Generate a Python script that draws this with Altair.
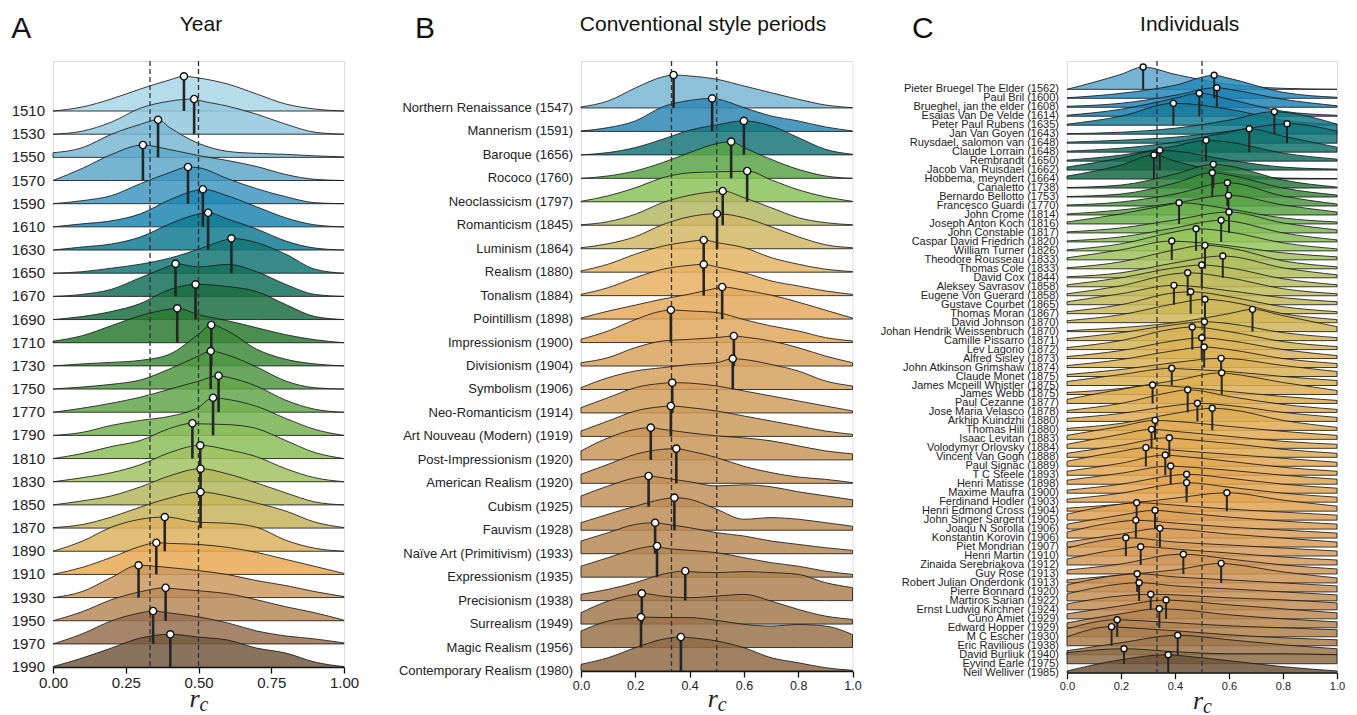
import altair as alt
import pandas as pd

# ---------------- Panel A : Year ----------------
A_LABELS = ["1510", "1530", "1550", "1570", "1590", "1610", "1630", "1650", "1670",
            "1690", "1710", "1730", "1750", "1770", "1790", "1810", "1830", "1850",
            "1870", "1890", "1910", "1930", "1950", "1970", "1990"]
A_GRID = [0.0, 0.1, 0.2, 0.3, 0.4, 0.5, 0.6, 0.7, 0.8, 0.9, 1.0]
A_DENS = [
    [0, 4, 12, 22, 31, 33, 27, 17, 7, 2, 0],
    [0, 3, 12, 26, 33, 34, 28, 20, 10, 2, 0],
    [4.6, 9.6, 23, 33, 30, 14, 6, 4, 3, 1.5, 0.5],
    [0, 12, 26, 35, 31, 25, 20, 14, 6, 1.2, 0],
    [0, 3, 8, 20, 31, 36, 25, 15, 7, 1, 0],
    [0, 3, 6, 13, 27, 37, 31, 20, 9, 2, 0],
    [0, 3, 6, 13, 26, 36, 31, 21, 9, 2, 0],
    [0, 1.5, 5, 9, 15, 24, 34, 30.5, 19, 4, 0],
    [0, 2, 7, 18.7, 30.4, 29.4, 32, 24.7, 12, 2, 0],
    [0, 3, 8, 16, 30, 35, 33, 28, 15, 3, 0],
    [1.5, 7, 17, 27, 33.5, 28, 22, 15, 8, 3, 0],
    [0, 2, 3.5, 5.5, 11.6, 31.6, 34.9, 16.6, 6.6, 2, 0],
    [0, 2, 4.7, 9, 20, 33, 34, 22, 8, 1.3, 0],
    [0, 4, 9, 15, 23, 31, 35, 26, 12, 3, 0],
    [0, 3, 10, 15, 19, 28, 36, 29, 17, 6, 0],
    [0, 5, 12, 18, 30, 34.8, 34, 30, 18, 6, 0],
    [0, 4, 9, 17, 29, 36, 32, 25, 13, 4, 0],
    [0, 4, 9, 18, 29, 36, 31, 22, 12, 3, 0],
    [0.5, 3.5, 11, 21, 30, 36, 32, 25, 17, 6, 0.5],
    [0, 10, 24, 32, 34, 29, 28, 24, 11, 3, 0],
    [0, 7, 17, 28, 31, 30, 27, 22, 15, 8, 1],
    [0, 6, 20, 32, 30, 27, 23, 17, 12, 6, 1],
    [0, 9, 21, 29, 32.5, 30, 27, 21, 14, 8, 0.5],
    [0, 10, 23, 31, 31, 27, 21, 13, 8, 5, 1],
    [0.5, 9, 19, 29, 32.5, 30, 27, 19, 14, 5, 0.5],
]
A_MED_X = [0.450, 0.485, 0.361, 0.309, 0.464, 0.515, 0.533, 0.613, 0.421, 0.490, 0.427,
           0.544, 0.542, 0.569, 0.550, 0.479, 0.506, 0.507, 0.507, 0.384, 0.355, 0.294,
           0.387, 0.344, 0.403]
A_MED_D = [34.7, 35.2, 37.6, 35.5, 36.7, 37.6, 37.3, 34.9, 32.7, 35.2, 34.4, 40.9, 38.0,
           36.5, 37.7, 35.3, 36.4, 36.2, 36.1, 34.2, 31.7, 32.3, 33.0, 32.9, 32.8]
A_TICKS = [0.0, 0.25, 0.5, 0.75, 1.0]
A_COLORS = ["#a9d6e8", "#93c8de", "#7ab7d2", "#5ea7c9", "#3f97c0", "#1f86b2", "#137b93",
            "#147775", "#16705a", "#1b6e43", "#2a7a33", "#3e8a3a", "#509942", "#62a64a",
            "#75b252", "#8bbe5a", "#a2c262", "#b4b75e", "#c6b45d", "#dcb15d", "#e9a955",
            "#cd9a5f", "#b88a58", "#987050", "#745a40"]

# ---------------- Panel B : Conventional style periods ----------------
B_LABELS = ["Northern Renaissance (1547)", "Mannerism (1591)", "Baroque (1656)",
            "Rococo (1760)", "Neoclassicism (1797)", "Romanticism (1845)",
            "Luminism (1864)", "Realism (1880)", "Tonalism (1884)", "Pointillism (1898)",
            "Impressionism (1900)", "Divisionism (1904)", "Symbolism (1906)",
            "Neo-Romanticism (1914)", "Art Nouveau (Modern) (1919)",
            "Post-Impressionism (1920)", "American Realism (1920)", "Cubism (1925)",
            "Fauvism (1928)", "Naïve Art (Primitivism) (1933)", "Expressionism (1935)",
            "Precisionism (1938)", "Surrealism (1949)", "Magic Realism (1956)",
            "Contemporary Realism (1980)"]
B_GRID = [0.0, 0.1, 0.2, 0.3, 0.4, 0.5, 0.6, 0.7, 0.8, 0.9, 1.0]
B_DENS = [
    [1, 7, 20, 31, 32, 28.7, 22, 15.3, 8.7, 3, 0.3],
    [0.5, 3.8, 10.5, 24.5, 31, 32.5, 23.8, 15.5, 10.5, 4.5, 0.5],
    [0, 2.3, 7.3, 15.6, 24.6, 30, 33.5, 29, 17.3, 5.6, 0.6],
    [0, 2.4, 7.4, 15.7, 25.7, 34.7, 30.7, 19, 9, 2.4, 0],
    [0.5, 6, 14, 24, 29, 30, 30.5, 22, 12, 5, 0.5],
    [0.5, 3.6, 11, 22.6, 30, 33.8, 27.6, 17.6, 7.6, 2.6, 0.5],
    [1, 5, 12, 24, 32, 35, 31, 22, 12, 4, 1],
    [1.2, 8, 18, 26, 30.6, 29.6, 24.6, 14.6, 8, 3, 0.6],
    [1.3, 8, 18, 26.3, 30.3, 28.7, 23, 14.7, 9.7, 4.7, 1.3],
    [1, 8, 14, 20, 25, 31, 29, 24, 17, 9, 1],
    [3.3, 11.6, 23, 31.6, 31.6, 30, 23, 16.6, 11.6, 5, 1.6],
    [3.3, 8.4, 18.4, 25, 26.7, 28.4, 29, 25, 18.4, 10, 3.3],
    [1.8, 11.8, 18.5, 21.8, 25, 26.8, 30, 25, 18.5, 8.5, 3.5],
    [5.3, 15.3, 25.3, 29.6, 29.8, 27, 22, 17, 12, 7, 2],
    [5.4, 15.4, 25.4, 29.8, 28.8, 25.4, 20.4, 15.4, 10.4, 5.4, 2],
    [8.9, 22, 30.5, 30.5, 27, 24, 22, 19, 14, 9, 6],
    [9, 19, 29, 34, 32.3, 25.7, 17, 10.7, 6.3, 4, 0.7],
    [10.8, 20.8, 29, 29, 25, 20.8, 22, 20, 15, 11, 7],
    [7.6, 16, 24, 31, 31, 21, 11, 12.6, 11, 7.6, 4],
    [12.7, 21, 29.3, 30, 26, 21, 17.7, 12.7, 9.3, 6, 3.3],
    [11, 19.5, 27.8, 29.5, 26.8, 24.5, 19.5, 14.5, 11, 6, 2.8],
    [6.3, 11.3, 18, 26.3, 29, 28, 29, 28, 26.3, 18, 13],
    [11.4, 23, 29.7, 28, 26.4, 28, 29.7, 23, 14.7, 8, 4.7],
    [16.5, 26.5, 30, 30, 29.9, 27.2, 23.2, 21.5, 23, 21.5, 13],
    [6.7, 13.3, 23.3, 31.7, 33.3, 30, 23.3, 13.3, 8.3, 3.3, 0.7],
]
B_MED_X = [0.341, 0.483, 0.600, 0.553, 0.612, 0.522, 0.501, 0.452, 0.452, 0.520, 0.331,
           0.563, 0.559, 0.336, 0.331, 0.257, 0.351, 0.249, 0.344, 0.273, 0.280, 0.384,
           0.224, 0.221, 0.368]
B_MED_D = [33, 33, 34, 36.7, 30.8, 34.3, 35, 32.2, 31.3, 32.1, 32.6, 30, 30.8, 30.3,
           30.4, 32.2, 34.7, 30.8, 32.6, 31, 31.2, 29.6, 30.7, 30.5, 34]
B_TICKS = [0.0, 0.2, 0.4, 0.6, 0.8, 1.0]
B_COLORS = ["#79b6d3", "#2f87b5", "#17767a", "#5aa548", "#8ac25a", "#b5b865", "#d1b866",
            "#e5b465", "#e8b061", "#e4a95d", "#dfa65e", "#d9a35e", "#d5a05e", "#d19e5d",
            "#cd9b5c", "#c9975b", "#c4935a", "#c09059", "#bc8d57", "#b88a56", "#b38654",
            "#ad8152", "#a47a4e", "#9a734b", "#8f6b47"]

# ---------------- Panel C : Individuals ----------------
C_LABELS = ["Pieter Bruegel The Elder (1562)", "Paul Bril (1600)",
            "Brueghel, jan the elder (1608)", "Esaias Van De Velde (1614)",
            "Peter Paul Rubens (1635)", "Jan Van Goyen (1643)",
            "Ruysdael, salomon van (1648)", "Claude Lorrain (1648)", "Rembrandt (1650)",
            "Jacob Van Ruisdael (1662)", "Hobbema, meyndert (1664)", "Canaletto (1738)",
            "Bernardo Bellotto (1753)", "Francesco Guardi (1770)", "John Crome (1814)",
            "Joseph Anton Koch (1816)", "John Constable (1817)",
            "Caspar David Friedrich (1820)", "William Turner (1826)",
            "Theodore Rousseau (1833)", "Thomas Cole (1833)", "David Cox (1844)",
            "Aleksey Savrasov (1858)", "Eugene Von Guerard (1858)",
            "Gustave Courbet (1865)", "Thomas Moran (1867)", "David Johnson (1870)",
            "Johan Hendrik Weissenbruch (1870)", "Camille Pissarro (1871)",
            "Lev Lagorio (1872)", "Alfred Sisley (1873)", "John Atkinson Grimshaw (1874)",
            "Claude Monet (1875)", "James Mcneill Whistler (1875)", "James Webb (1875)",
            "Paul Cezanne (1877)", "Jose Maria Velasco (1878)", "Arkhip Kuindzhi (1880)",
            "Thomas Hill (1880)", "Isaac Levitan (1883)", "Volodymyr Orlovsky (1884)",
            "Vincent Van Gogh (1888)", "Paul Signac (1889)", "T C Steele (1893)",
            "Henri Matisse (1898)", "Maxime Maufra (1900)", "Ferdinand Hodler (1903)",
            "Henri Edmond Cross (1904)", "John Singer Sargent (1905)",
            "Joaqu N Sorolla (1906)", "Konstantin Korovin (1906)", "Piet Mondrian (1907)",
            "Henri Martin (1910)", "Zinaida Serebriakova (1912)", "Guy Rose (1913)",
            "Robert Julian Onderdonk (1913)", "Pierre Bonnard (1920)",
            "Martiros Sarian (1922)", "Ernst Ludwig Kirchner (1924)", "Cuno Amiet (1929)",
            "Edward Hopper (1929)", "M C Escher (1930)", "Eric Ravilious (1938)",
            "David Burliuk (1940)", "Eyvind Earle (1975)", "Neil Welliver (1985)"]
C_GRID = [0.0, 0.2, 0.4, 0.6, 0.8, 1.0]
C_DENS = [
    [0, 15, 15, 5, 1, 0], [0.5, 5, 13, 20, 6, 1], [1, 4, 12, 18, 8, 1.5],
    [1, 7, 18, 17, 5, 1], [1, 9, 21.5, 16, 5, 1], [0.5, 2, 6, 14, 22, 10],
    [1, 3, 6, 12, 19.3, 12], [1, 4, 10, 20, 16, 5], [1, 6, 15, 19, 8, 2],
    [3, 12, 19, 10, 3, 1], [3, 14, 18, 6, 1, 0.5], [0.5, 3, 14, 22, 8, 1],
    [0.5, 3, 14, 22, 9, 2], [1, 4, 12, 23, 10, 2], [1, 5, 12, 19.5, 10, 3],
    [2, 10, 20.5, 15, 6, 2], [1, 5, 13, 20.9, 10, 3], [1, 5, 14, 21, 9, 2],
    [1, 7, 19, 19, 8, 2], [2, 10, 18.7, 14, 7, 3], [1, 7, 19, 21, 8, 2],
    [1, 5, 15, 21.5, 10, 3], [2, 9, 19, 19, 8, 2], [2, 10, 22, 18, 7, 2],
    [3, 11, 19.3, 14, 7, 3], [2, 9, 21, 17, 7, 2], [2, 8, 19, 21, 9, 3],
    [1, 4, 9, 18, 16, 5], [2, 8, 16, 17, 8, 3], [2, 9, 21, 18, 8, 3],
    [2, 8, 18, 18, 9, 3], [2, 8, 17, 18, 9, 4], [2, 7, 14, 18, 11, 5],
    [4, 11, 17, 14, 9, 5], [2, 6, 14, 21, 12, 4], [4, 14, 17, 12, 7, 3],
    [2, 9, 21, 16, 8, 3], [3, 8, 16, 16, 9, 4], [2, 7, 17, 21, 10, 3],
    [4, 13, 18, 13, 8, 4], [4, 14, 17, 12, 7, 4], [4, 12, 19, 14, 8, 4],
    [5, 15, 16, 12, 8, 4], [4, 12, 19.5, 14, 8, 4], [4, 11, 18, 14, 9, 5],
    [3, 9, 18, 15, 9, 5], [3, 9, 18.5, 15, 9, 5], [3, 7, 13, 18.4, 11, 5],
    [6, 16, 15, 11, 8, 5], [5, 14, 17, 12, 8, 5], [6, 16.5, 15, 11, 8, 5],
    [5, 13, 18, 13, 9, 5], [8, 18, 14, 11, 8, 5], [6, 16, 16, 12, 8, 5],
    [4, 10, 19.5, 15, 9, 5], [3, 8, 13, 19, 11, 5], [7, 17, 15, 12, 9, 6],
    [7, 17, 15, 12, 9, 6], [6, 14, 15, 12, 10, 7], [5, 13, 18.5, 14, 10, 6],
    [5, 14, 18.5, 13, 9, 6], [8, 17, 14, 11, 9, 7], [9, 18.5, 15, 11, 8, 6],
    [4, 12, 19.4, 15, 10, 6], [11, 15, 12, 10, 10, 9], [1.7, 13, 17.5, 12, 6, 1.7],
]
C_MED_X = [0.282, 0.545, 0.555, 0.490, 0.394, 0.768, 0.815, 0.675, 0.515, 0.344,
           0.322, 0.542, 0.538, 0.594, 0.598, 0.415, 0.600, 0.571, 0.478, 0.388,
           0.511, 0.577, 0.499, 0.447, 0.396, 0.458, 0.511, 0.687, 0.509, 0.464,
           0.499, 0.508, 0.571, 0.388, 0.573, 0.317, 0.447, 0.483, 0.538, 0.326,
           0.313, 0.379, 0.292, 0.364, 0.384, 0.443, 0.443, 0.592, 0.258, 0.326,
           0.255, 0.344, 0.218, 0.273, 0.431, 0.571, 0.260, 0.267, 0.310, 0.367,
           0.342, 0.186, 0.165, 0.410, 0.211, 0.375]
C_MED_D = [22.3, 23, 19.6, 23, 21.9, 22.5, 19.5, 23.4, 20.8, 19.8,
           24.1, 23.7, 24.3, 23.3, 19.6, 21.2, 20.9, 21.6, 22.2, 18.8,
           23.5, 21.8, 21.8, 23, 19.4, 22, 23.4, 22.3, 18.9, 22.6,
           20.8, 20.5, 18.2, 17.2, 21.7, 18.4, 22.7, 18.1, 22.1, 19,
           19, 19.6, 18.6, 20.2, 18.2, 18.9, 19.5, 18.4, 17.4, 18.8,
           17.8, 18.7, 18.3, 18.3, 19.7, 19.6, 18.2, 18.2, 15.6, 18.9,
           19.1, 17.1, 19.1, 19.5, 15, 18]
C_TICKS = [0.0, 0.2, 0.4, 0.6, 0.8, 1.0]
C_COLOR_ANCHORS = [(0, "#5ea4cb"), (1, "#2588bb"), (3, "#1a7dad"), (5, "#137a88"),
                   (8, "#0f6e5e"), (10, "#196846"), (12, "#3a8c3b"), (15, "#6cb04d"),
                   (18, "#95c45d"), (21, "#b2be5e"), (25, "#cab859"), (30, "#d9b256"),
                   (40, "#e1aa54"), (46, "#e3a452"), (52, "#d69c5c"), (58, "#c38d55"),
                   (62, "#aa7d4b"), (64, "#8f6d48"), (65, "#6e5338")]

DASH_X = [1 / 3, 0.5]


def interp_colors(anchors, n):
    def rgb(h):
        return [int(h[k:k + 2], 16) for k in (1, 3, 5)]
    out = []
    for i in range(n):
        for (i0, c0), (i1, c1) in zip(anchors, anchors[1:]):
            if i0 <= i <= i1:
                t = 0 if i1 == i0 else (i - i0) / (i1 - i0)
                a, b = rgb(c0), rgb(c1)
                out.append("#%02x%02x%02x" % tuple(round(a[k] + (b[k] - a[k]) * t) for k in range(3)))
                break
    return out


C_COLORS = interp_colors(C_COLOR_ANCHORS, len(C_LABELS))

FONT = "Liberation Sans"


def panel(key, labels, grid, dens, med_x, med_d, colors, ticks, fmt, cfg):
    n = len(labels)
    unit = 1.0 / cfg["row_px"]
    W, H = cfg["width"], cfg["height"]
    top = H / cfg["row_px"]
    ids = ["%s%02d" % (key, i) for i in range(n)]
    area_rows, med_rows, lab_rows = [], [], []
    for i in range(n):
        base = n - 1 - i
        pts = [(g, d) for g, d in zip(grid, dens[i]) if abs(g - med_x[i]) > 0.012]
        pts.append((med_x[i], med_d[i]))
        pts.sort()
        for g, d in pts:
            area_rows.append({"rid": ids[i], "x": g, "y": base + d * unit, "base": base})
        med_rows.append({"rid": ids[i], "mx": med_x[i], "top": base + med_d[i] * unit, "base": base})
        lab_rows.append({"label": labels[i], "base": base})
    area_df = pd.DataFrame(area_rows)
    med_df = pd.DataFrame(med_rows)
    lab_df = pd.DataFrame(lab_rows)

    xaxis = alt.Axis(values=ticks, format=fmt, title=None, grid=False, domainColor="#111",
                     domainWidth=1.3, tickColor="#111", tickWidth=1.3, tickSize=6,
                     labelFontSize=cfg["tick_size"], labelFont=FONT, labelColor="#222",
                     labelPadding=2, labelFlush=False)
    xs = alt.Scale(domain=[0, 1], nice=False, zero=False)
    ys = alt.Scale(domain=[0, top], nice=False, zero=False)

    def X(f):
        return alt.X(f + ":Q", scale=xs, axis=xaxis)

    def Y(f):
        return alt.Y(f + ":Q", scale=ys, axis=None)

    areas = alt.Chart(area_df).mark_area(
        interpolate="monotone", fillOpacity=0.85, stroke="#1a1a1a", strokeWidth=1,
        strokeOpacity=0.85
    ).encode(
        x=X("x"), y=Y("y"), y2=alt.Y2("base:Q"),
        color=alt.Color("rid:N", scale=alt.Scale(domain=ids, range=colors), legend=None),
        detail="rid:N",
    )
    dashes = alt.Chart(pd.DataFrame({"x": DASH_X})).mark_rule(
        strokeDash=[5, 3], color="#333", strokeWidth=1.3
    ).encode(x=X("x"), y=alt.value(0), y2=alt.value(H))
    stems = alt.Chart(med_df).mark_rule(color="#262626", strokeWidth=cfg["stem"]).encode(
        x=X("mx"), y=Y("base"), y2=alt.Y2("top:Q"))
    dots = alt.Chart(med_df).mark_circle(
        color="white", fill="white", stroke="#111", strokeWidth=1.4, size=cfg["dot"], opacity=1
    ).encode(x=X("mx"), y=Y("top"))
    ylab = alt.Chart(lab_df).mark_text(
        align="right", baseline="middle", font=FONT, fontSize=cfg["label_size"], color="#222"
    ).encode(x=alt.value(-8), y=Y("base"), text="label:N")

    one = pd.DataFrame({"t": [cfg["title"]]})
    title = alt.Chart(one).mark_text(
        align="center", baseline="alphabetic", font=FONT, fontSize=21, color="#111"
    ).encode(x=alt.value(cfg["title_x"]), y=alt.value(-30), text="t:N")
    letter = alt.Chart(pd.DataFrame({"t": [cfg["letter"]]})).mark_text(
        align="left", baseline="alphabetic", font=FONT, fontSize=30, color="#111"
    ).encode(x=alt.value(cfg["letter_x"]), y=alt.value(-23), text="t:N")
    r_t = alt.Chart(pd.DataFrame({"t": ["r"]})).mark_text(
        align="right", baseline="alphabetic", font="Liberation Serif", fontStyle="italic",
        fontSize=26, color="#222"
    ).encode(x=alt.value(W / 2 + 1), y=alt.value(H + cfg["rc_dy"]), text="t:N")
    c_t = alt.Chart(pd.DataFrame({"t": ["c"]})).mark_text(
        align="left", baseline="alphabetic", font="Liberation Serif", fontStyle="italic",
        fontSize=20, color="#222"
    ).encode(x=alt.value(W / 2 + 1), y=alt.value(H + cfg["rc_dy"] + 4), text="t:N")
    bound = alt.Chart(pd.DataFrame({"t": [0]})).mark_rule(opacity=0, strokeWidth=0.1).encode(
        x=alt.value(-cfg["L"]), x2=alt.value(W + cfg["R"]), y=alt.value(-52))

    return alt.layer(areas, dashes, stems, dots, ylab, title, letter, r_t, c_t, bound).properties(
        width=W, height=H)


pA = panel("a", A_LABELS, A_GRID, A_DENS, A_MED_X, A_MED_D, A_COLORS, A_TICKS, ".2f",
           dict(row_px=23.17, width=291, height=606.1, tick_size=15, label_size=15,
                title="Year", title_x=148, letter="A", letter_x=-41.7, rc_dy=40,
                L=43.7, R=20, stem=2.6, dot=52))
pB = panel("b", B_LABELS, B_GRID, B_DENS, B_MED_X, B_MED_D, B_COLORS, B_TICKS, ".1f",
           dict(row_px=23.46, width=271.5, height=610, tick_size=12.5, label_size=13,
                title="Conventional style periods", title_x=122, letter="B", letter_x=-166,
                rc_dy=36, L=215.3, R=20, stem=2.6, dot=52))
pC = panel("c", C_LABELS, C_GRID, C_DENS, C_MED_X, C_MED_D, C_COLORS, C_TICKS, ".1f",
           dict(row_px=8.975, width=270, height=611.7, tick_size=11, label_size=11,
                title="Individuals", title_x=122.7, letter="C", letter_x=-155,
                rc_dy=36, L=192.8, R=2, stem=2.0, dot=36))

chart = alt.hconcat(pA, pB, pC, spacing=0).resolve_scale(color="independent").properties(
    padding={"left": 0, "top": 0, "right": 0, "bottom": 0}
).configure_view(stroke=None).configure(background="white")

chart.save("out.html", embed_options={"renderer": "svg", "actions": False})
